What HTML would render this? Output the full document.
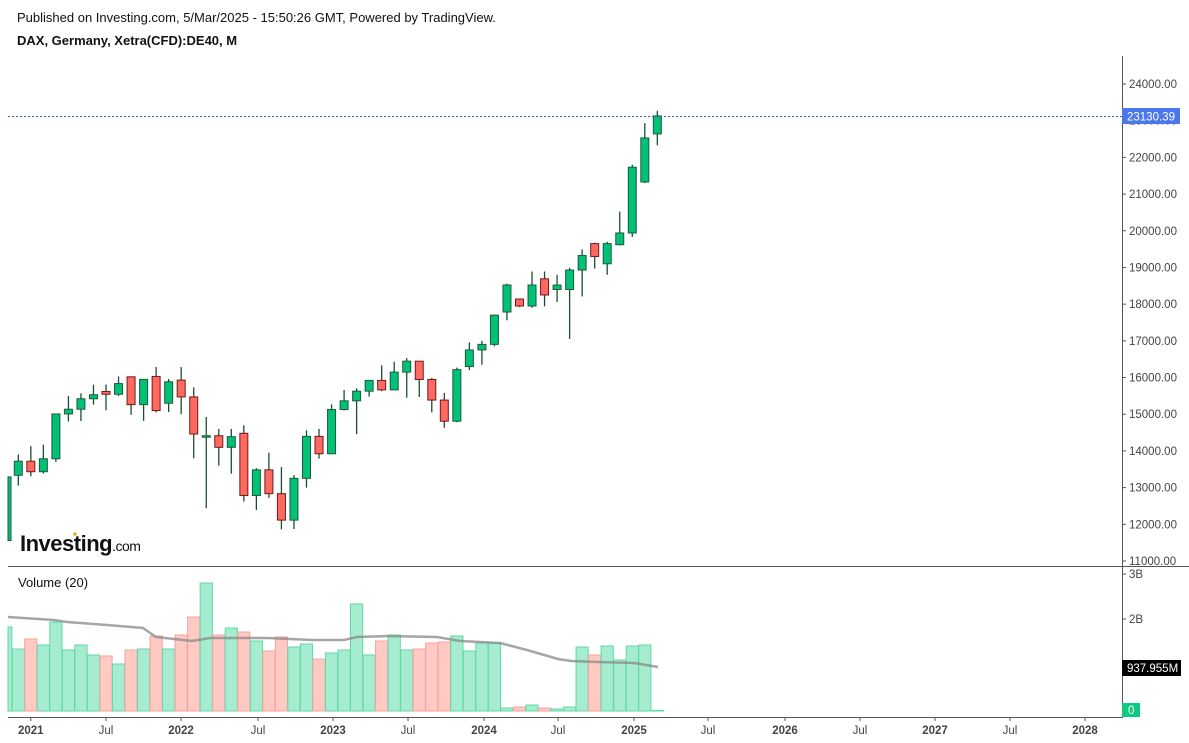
<!DOCTYPE html>
<html><head><meta charset="utf-8"><style>
html,body{margin:0;padding:0;background:#fff;width:1189px;height:743px;overflow:hidden;font-family:"Liberation Sans",Arial,sans-serif}
svg{position:absolute;left:0;top:0}
</style></head><body>
<svg id="c" width="1189" height="743" xmlns="http://www.w3.org/2000/svg" font-family="Liberation Sans, Arial, sans-serif">
<text x="17" y="22" font-size="13" fill="#111">Published on Investing.com, 5/Mar/2025 - 15:50:26 GMT, Powered by TradingView.</text>
<text x="17" y="45" font-size="13" font-weight="bold" fill="#111">DAX, Germany, Xetra(CFD):DE40, M</text>
<line x1="1122.5" y1="56" x2="1122.5" y2="718" stroke="#555" stroke-width="1"/>
<line x1="8" y1="566.5" x2="1189" y2="566.5" stroke="#555" stroke-width="1"/>
<line x1="8" y1="717.5" x2="1122" y2="717.5" stroke="#555" stroke-width="1"/>
<g id="g"></g>
<text x="20" y="551" font-size="22" font-weight="bold" fill="#111" letter-spacing="-0.5">Investing<tspan font-size="14" font-weight="normal">.com</tspan></text>
<circle cx="75" cy="534" r="1.8" fill="#f5a623"/>
<text x="18" y="587" font-size="13" fill="#111">Volume (20)</text>
</svg>
<script>
var g=document.getElementById('g'),s='';
function y(p){return 84+(24000-p)*0.036692;}
var d=[
[11556,13300,11450,13291],
[13336,13903,13055,13719],[13719,14131,13311,13433],[13433,14169,13383,13786],[13786,15008,13700,15008],
[15008,15502,14800,15136],[15136,15568,14816,15421],[15421,15803,15263,15531],[15620,15811,15110,15544],
[15544,16030,15500,15835],[16020,15960,14983,15261],[15261,15740,14819,15950],[16030,16290,15050,15100],
[15300,15960,15060,15885],[15930,16285,15000,15471],[15471,15736,13800,14461],[14414,14925,12438,14414],
[14414,14600,13600,14098],[14098,14600,13380,14388],[14480,14700,12620,12784],[12784,13530,12390,13484],
[13484,13950,12720,12835],[12835,13560,11862,12114],[12114,13340,11870,13253],[13253,14560,13000,14397],
[14397,14600,13790,13923],[13923,15270,13980,15128],[15128,15660,15100,15365],[15365,15710,14460,15628],
[15628,15925,15480,15922],[15922,16330,15630,15664],[15664,16430,15690,16147],[16147,16530,15450,16446],
[16446,16450,15470,15947],[15947,15990,15050,15386],[15386,15580,14630,14810],[14810,16270,14780,16215],
[16300,16960,16200,16752],[16752,17000,16350,16904],[16904,17710,16850,17700],[17786,18560,17560,18522],
[18140,18150,17920,17950],[17950,18890,17900,18522],[18690,18890,17940,18250],[18400,18800,18060,18520],
[18400,18990,17050,18930],[18930,19490,18210,19325],[19650,19675,18970,19300],[19100,19700,18800,19650],
[19620,20523,19600,19940],[19940,21800,19830,21732],[21330,22935,21300,22530],[22640,23270,22330,23130]];
var x0=18.3-12.53;
for(var i=0;i<d.length;i++){var c=d[i],x=x0+i*12.53,o=y(c[0]),h=y(c[1]),l=y(c[2]),cl=y(c[3]);var up=c[3]>=c[0];
var t=Math.min(o,cl),b=Math.max(o,cl);if(b-t<1.5)b=t+1.5;
if(i>0)s+='<line x1="'+x+'" y1="'+h+'" x2="'+x+'" y2="'+l+'" stroke="#1b4d34" stroke-width="1.3"/>';
var w=i==0?3:8,xl=i==0?8:x-4;
s+='<rect x="'+xl+'" y="'+t+'" width="'+w+'" height="'+(b-t)+'" fill="'+(up?'#00c176':'#ff6960')+'" stroke="'+(up?'#1d5a3c':'#6e1b1b')+'" stroke-width="1"/>';}
var vt=[627,649,639,645,622,650,645,655,656,664,650,649,636,649,635,617,583,635,628,632,641,651,637,647,644,659,653,650,604,655,641,635,650,649,643,642,636,651,643,643,708,707,705,708,709,707,647,655,646,660,646,645,710.5];
var vr=[0,0,1,0,0,0,0,0,1,0,1,0,1,0,1,1,0,1,0,1,0,1,1,0,0,1,0,0,0,0,1,0,0,1,1,1,0,0,0,0,0,1,0,1,0,0,0,1,0,0,0,0,0];
var vb=711;
for(var i=0;i<vt.length;i++){var xc=x0+i*12.53,xl=Math.max(8,xc-6.1),xr=xc+6.1;
s+='<rect x="'+xl+'" y="'+vt[i]+'" width="'+(xr-xl)+'" height="'+Math.max(0.5,vb-vt[i])+'" fill="'+(vr[i]?'#ffc9c4':'#a6ecd0')+'" stroke="'+(vr[i]?'#f7a39c':'#62d8a6')+'" stroke-width="1"/>';}
var ma=[[8,617],[54,620],[67,622],[107,625],[143,628],[156,637],[192,641],[210,638],[268,638],[312,640],[344,640],[357,637],[388,636],[437,637],[460,641],[500,643],[527,650],[558,659],[571,661],[598,662],[634,663],[658,667]];
s+='<polyline points="'+ma.map(function(p){return p.join(',')}).join(' ')+'" fill="none" stroke="#888" stroke-opacity="0.75" stroke-width="2.5"/>';
s+='<line x1="8" y1="116.5" x2="1122" y2="116.5" stroke="#3a5fc8" stroke-width="1" stroke-dasharray="2,2"/>';
for(var p=11000;p<=24000;p+=1000){var yy=y(p);s+='<line x1="1122" y1="'+yy+'" x2="1126" y2="'+yy+'" stroke="#555"/><text x="1129" y="'+(yy+4)+'" font-size="11.5" fill="#444">'+p+'.00</text>';}
s+='<rect x="1122" y="108" width="58" height="16" fill="#4a78ec"/><text x="1127" y="120.5" font-size="11.5" fill="#fff">23130.39</text>';
s+='<line x1="1122" y1="574" x2="1126" y2="574" stroke="#555"/><text x="1129" y="578" font-size="11.5" fill="#444">3B</text>';
s+='<line x1="1122" y1="619" x2="1126" y2="619" stroke="#555"/><text x="1129" y="623" font-size="11.5" fill="#444">2B</text>';
s+='<rect x="1122" y="660" width="59" height="16" fill="#000"/><text x="1127" y="672" font-size="11.5" fill="#fff">937.955M</text>';
s+='<rect x="1122" y="703" width="18" height="14" fill="#0ecb81"/><text x="1128" y="714" font-size="11.5" fill="#fff">0</text>';
var lb=[['2021',30.8],['Jul',106],['2022',181],['Jul',258],['2023',333],['Jul',408],['2024',484],['Jul',558],['2025',634],['Jul',708],['2026',785],['Jul',860],['2027',935],['Jul',1010],['2028',1085]];
lb.forEach(function(a){s+='<line x1="'+a[1]+'" y1="717" x2="'+a[1]+'" y2="721" stroke="#555"/><text x="'+a[1]+'" y="734" font-size="11.5" fill="#444" text-anchor="middle" font-weight="'+(a[0]=='Jul'?'normal':'bold')+'">'+a[0]+'</text>';});
g.innerHTML=s;
</script>
</body></html>
